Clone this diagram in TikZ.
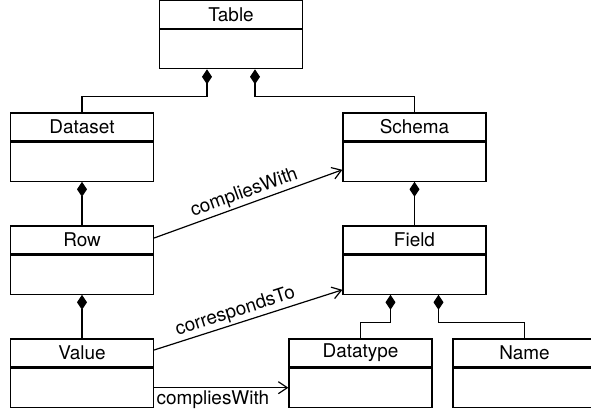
\documentclass[tikz,border=0pt]{standalone}
\usepackage{fontspec}
\setmainfont{TeX Gyre Heros}
\usetikzlibrary{arrows.meta,calc}
\begin{document}
\begin{tikzpicture}[x=1bp,y=-1bp,line width=1.2bp,
  classhead/.style={draw,minimum width=143bp,minimum height=28bp,inner sep=0pt,
    font=\fontsize{19}{22}\selectfont},
  classbody/.style={draw,minimum width=143bp,minimum height=39bp,inner sep=0pt,anchor=north},
  comp/.style={{Diamond[length=15bp,width=10bp]}-},
  assoc/.style={-{Straight Barb[length=9bp,width=12bp]}},
  rel/.style={font=\fontsize{19}{22}\selectfont,inner sep=2bp}]
\useasboundingbox (0,0) rectangle (591,412);

% classes: name compartment + empty body compartment
\node[classhead] (table) at (231,14.5) {Table};
\node[classbody] (tableb) at (table.south) {};
\node[classhead] (dataset) at (82,127) {Dataset};
\node[classbody] (datasetb) at (dataset.south) {};
\node[classhead] (schema) at (414.5,127) {Schema};
\node[classbody] (schemab) at (schema.south) {};
\node[classhead] (row) at (82,240) {Row};
\node[classbody] (rowb) at (row.south) {};
\node[classhead] (field) at (414.5,240) {Field};
\node[classbody] (fieldb) at (field.south) {};
\node[classhead] (value) at (82,353) {Value};
\node[classbody] (valueb) at (value.south) {};
\node[classhead] (datatype) at (360.5,353) {Datatype};
\node[classbody] (datatypeb) at (datatype.south) {};
\node[classhead] (name) at (524.5,353) {Name};
\node[classbody] (nameb) at (name.south) {};

% compositions
\draw[comp] ($(tableb.south west)!1/3!(tableb.south east)$) -- ++(0,27) -| (dataset.north);
\draw[comp] ($(tableb.south west)!2/3!(tableb.south east)$) -- ++(0,27) -| (schema.north);
\draw[comp] (datasetb.south) -- (row.north);
\draw[comp] (schemab.south) -- (field.north);
\draw[comp] (rowb.south) -- (value.north);
\draw[comp] ($(fieldb.south west)!1/3!(fieldb.south east)$) -- ++(0,28) -| (datatype.north);
\draw[comp] ($(fieldb.south west)!2/3!(fieldb.south east)$) -- ++(0,28) -| (name.north);

% associations
\draw[assoc] ([yshift=2bp]row.east) -- ([yshift=12bp]schemab.south west)
  node[rel,midway,sloped,above] {compliesWith};
\draw[assoc] ([yshift=3bp]value.east) -- ([yshift=5bp]fieldb.south west)
  node[rel,pos=0.45,sloped,above] {correspondsTo};
\draw[assoc] (valueb.east) -- (datatypeb.west)
  node[rel,pos=0,anchor=north west] {compliesWith};
\end{tikzpicture}
\end{document}
